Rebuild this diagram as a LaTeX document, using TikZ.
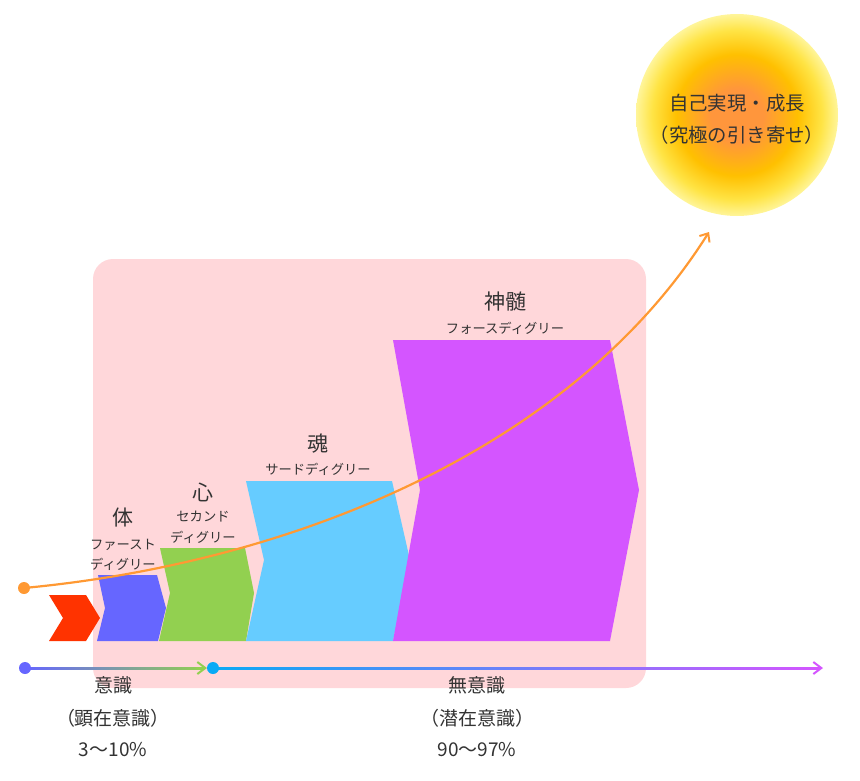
\documentclass[tikz,border=0pt]{standalone}
\usepackage{fontspec}
\setmainfont{Noto Sans CJK JP}
\usetikzlibrary{arrows.meta}
\definecolor{pinkbg}{HTML}{FFD7DA}
\definecolor{txt}{HTML}{333333}
\definecolor{redc}{HTML}{FF3300}
\definecolor{bluec}{HTML}{6666FF}
\definecolor{greenc}{HTML}{92D050}
\definecolor{cyanc}{HTML}{66CCFF}
\definecolor{magc}{HTML}{D455FF}
\definecolor{orangec}{HTML}{FF9933}
\definecolor{dotcyan}{HTML}{0AAAF5}
\definecolor{sunA}{HTML}{FF963C}
\definecolor{sunB}{HTML}{FFC000}
\definecolor{sunC}{HTML}{FFE445}
\definecolor{sunD}{HTML}{FFF59A}
\pgfdeclareradialshading{sunshade}{\pgfpoint{0bp}{0bp}}{color(0bp)=(sunA); color(6.5bp)=(sunA); color(15bp)=(sunB); color(21bp)=(sunC); color(25bp)=(sunD); color(50bp)=(sunD)}
\tikzset{
  head/.style={text=txt, font=\fontsize{21}{24}\selectfont, inner sep=0pt},
  sub/.style={text=txt, font=\fontsize{13.3}{16}\selectfont, inner sep=0pt},
  bot/.style={text=txt, font=\fontsize{19}{22}\selectfont, inner sep=0pt},
  suntxt/.style={text=txt, font=\fontsize{19.4}{22}\selectfont, inner sep=0pt},
  dotnode/.style={circle, inner sep=0pt, minimum size=12pt},
  barb/.style={-{Straight Barb[length=8pt,width=12pt,line width=2pt]}},
}
\begin{document}
\begin{tikzpicture}[x=1pt,y=-1pt]
\useasboundingbox (0,0) rectangle (860,780);
% background panel
\fill[pinkbg, rounded corners=20pt] (93,259) rectangle (646,688);
% sun
\node[circle, shade, shading=sunshade, minimum size=202pt, inner sep=0pt] (sun) at (737,115) {};
\node[suntxt] (sun1) at (737,103) {自己実現・成長};
\node[suntxt] (sun2) at (737,135) {（究極の引き寄せ）};
% arrow shapes
\fill[redc] (49,595) -- (86,595) -- (100,618) -- (86,641) -- (49,641) -- (63,618) -- cycle;
\fill[bluec] (98,575) -- (157,575) -- (166,608) -- (158,641) -- (97,641) -- (105,608) -- cycle;
\fill[greenc] (160,548) -- (245,548) -- (254,593) -- (246,641) -- (159,641) -- (170,593) -- cycle;
\fill[cyanc] (246,481) -- (392,481) -- (410,560) -- (393,641) -- (246,641) -- (264,560) -- cycle;
\fill[magc] (393,340) -- (610,340) -- (639,490) -- (610,641) -- (393,641) -- (420,490) -- cycle;
% labels
\node[head] (l1) at (123,518) {体};
\node[sub] (l1a) at (123,545) {ファースト};
\node[sub] (l1b) at (123,564) {ディグリー};
\node[head] (l2) at (203,492) {心};
\node[sub] (l2a) at (203,517) {セカンド};
\node[sub] (l2b) at (203,537) {ディグリー};
\node[head] (l3) at (318,444) {魂};
\node[sub] (l3a) at (318,469) {サードディグリー};
\node[head] (l4) at (505,302) {神髄};
\node[sub] (l4a) at (505,328) {フォースディグリー};
% orange growth curve
\node[dotnode, fill=orangec] (od) at (24,588) {};
\coordinate (oend) at (709,232);
\draw[orangec, line width=2.2pt, -{Straight Barb[length=7pt,width=12pt,line width=2pt]}] (od.center) .. controls (300,562) and (575,445) .. (oend);
% bottom axis
\coordinate (a1s) at (25,668);
\coordinate (a1e) at (207,668);
\coordinate (a2s) at (213,668);
\coordinate (a2e) at (823,668);
\shade[left color=bluec, right color=greenc] (25,667) rectangle (204,669);
\draw[greenc, line width=2pt, barb] (196,668) -- (a1e);
\shade[left color=dotcyan, right color=magc] (213,667) rectangle (820,669);
\draw[magc, line width=2pt, barb] (812,668) -- (a2e);
\node[dotnode, fill=bluec] (d1) at (a1s) {};
\node[dotnode, fill=dotcyan] (d2) at (a2s) {};
% bottom labels
\node[bot] (b1) at (113,685) {意識};
\node[bot] (b2) at (113,718) {（顕在意識）};
\node[bot] (b3) at (113,750) {3〜10\%};
\node[bot] (b4) at (477,685) {無意識};
\node[bot] (b5) at (477,718) {（潜在意識）};
\node[bot] (b6) at (477,750) {90〜97\%};
\end{tikzpicture}
\end{document}
